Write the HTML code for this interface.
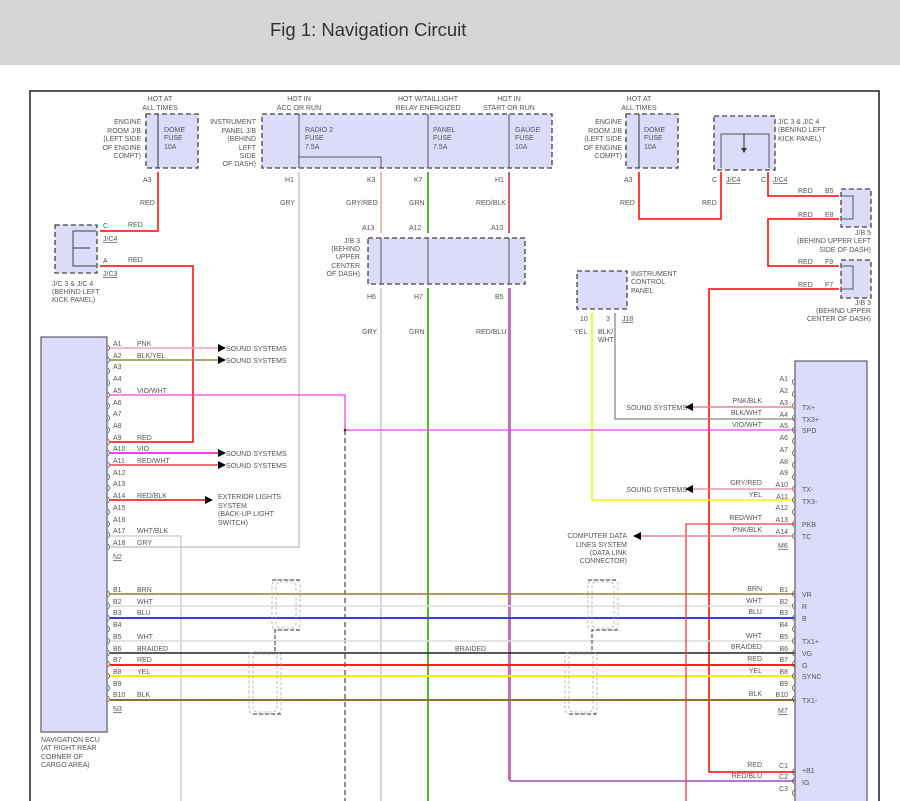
<!DOCTYPE html>
<html><head><meta charset="utf-8"><style>
body{margin:0;background:#fff;}
svg{display:block;font-family:"Liberation Sans",sans-serif;}
text{font-size:7px;fill:#555;}
.t{font-size:18.5px;fill:#333;}
.box{fill:#dcdcfa;stroke:#444;stroke-width:1.3;stroke-dasharray:5 3;}
.r{text-anchor:end;}
.u{text-decoration:underline;}
</style></head><body>
<svg width="900" height="801" viewBox="0 0 900 801">
<rect x="0" y="0" width="900" height="65" fill="#d6d6d6"/>
<text x="270" y="36" class="t">Fig 1: Navigation Circuit</text>
<rect x="30" y="91" width="849" height="720" fill="#fff" stroke="#555" stroke-width="2"/>

<text x="160" y="101" text-anchor="middle">HOT AT</text><text x="160" y="110" text-anchor="middle">ALL TIMES</text>
<rect x="146" y="114" width="52" height="54" class="box"/>
<line x1="158" y1="114" x2="158" y2="168" stroke="#333"/>
<text x="164" y="132">DOME</text><text x="164" y="140">FUSE</text><text x="164" y="149">10A</text>
<text x="141" y="124" class="r">ENGINE</text><text x="141" y="133" class="r">ROOM J/B</text><text x="141" y="141" class="r">(LEFT SIDE</text><text x="141" y="150" class="r">OF ENGINE</text><text x="141" y="158" class="r">COMPT)</text>
<text x="143" y="182">A3</text><text x="140" y="205">RED</text>
<polyline points="158,172 158,231 100,231" fill="none" stroke="#f00" stroke-width="1.5"/>
<text x="128" y="227">RED</text><text x="103" y="228">C</text><text x="103" y="241" class="u">J/C4</text>
<rect x="55" y="225" width="42" height="48" class="box"/>
<polyline points="96,231 73,231 73,266 96,266" fill="none" stroke="#444"/>
<line x1="73" y1="248" x2="90" y2="248" stroke="#333"/>
<text x="103" y="263">A</text><text x="128" y="262">RED</text><text x="103" y="276" class="u">J/C3</text>
<polyline points="100,266 193,266 193,442 110,442" fill="none" stroke="#f00" stroke-width="1.5"/>
<text x="52" y="286">J/C 3 &amp; J/C 4</text><text x="52" y="294">(BEHIND LEFT</text><text x="52" y="302">KICK PANEL)</text>

<text x="299" y="101" text-anchor="middle">HOT IN</text><text x="299" y="110" text-anchor="middle">ACC OR RUN</text>
<text x="428" y="101" text-anchor="middle">HOT W/TAILLIGHT</text><text x="428" y="110" text-anchor="middle">RELAY ENERGIZED</text>
<text x="509" y="101" text-anchor="middle">HOT IN</text><text x="509" y="110" text-anchor="middle">START OR RUN</text>
<rect x="262" y="114" width="290" height="54" class="box"/>
<text x="256" y="124" class="r">INSTRUMENT</text><text x="256" y="133" class="r">PANEL J/B</text><text x="256" y="141" class="r">(BEHIND</text><text x="256" y="150" class="r">LEFT</text><text x="256" y="158" class="r">SIDE</text><text x="256" y="166" class="r">OF DASH)</text>
<g stroke="#555"><line x1="299" y1="114" x2="299" y2="168"/><line x1="428" y1="114" x2="428" y2="168"/><line x1="509" y1="114" x2="509" y2="168"/><polyline points="299,157 381,157 381,168" fill="none"/></g>
<text x="305" y="132">RADIO 2</text><text x="305" y="140">FUSE</text><text x="305" y="149">7.5A</text>
<text x="433" y="132">PANEL</text><text x="433" y="140">FUSE</text><text x="433" y="149">7.5A</text>
<text x="515" y="132">GAUGE</text><text x="515" y="140">FUSE</text><text x="515" y="149">10A</text>
<text x="285" y="182">H1</text><text x="367" y="182">K3</text><text x="414" y="182">K7</text><text x="495" y="182">H1</text>
<text x="280" y="205">GRY</text><text x="346" y="205">GRY/RED</text><text x="409" y="205">GRN</text><text x="476" y="205">RED/BLK</text>
<text x="362" y="230">A13</text><text x="409" y="230">A12</text><text x="491" y="230">A10</text>
<line x1="381" y1="172" x2="381" y2="233" stroke="#e07070" stroke-width="1"/>
<line x1="428" y1="172" x2="428" y2="233" stroke="#4cbb2c" stroke-width="2"/>
<line x1="509" y1="172" x2="509" y2="233" stroke="#c03030" stroke-width="1.5"/>
<rect x="368" y="238" width="157" height="46" class="box"/>
<g stroke="#555"><line x1="381" y1="238" x2="381" y2="284"/><line x1="428" y1="238" x2="428" y2="284"/><line x1="509" y1="238" x2="509" y2="284"/></g>
<text x="360" y="243" class="r">J/B 3</text><text x="360" y="251" class="r">(BEHIND</text><text x="360" y="259" class="r">UPPER</text><text x="360" y="268" class="r">CENTER</text><text x="360" y="276" class="r">OF DASH)</text>
<text x="367" y="299">H6</text><text x="414" y="299">H7</text><text x="495" y="299">B5</text>
<text x="362" y="334">GRY</text><text x="409" y="334">GRN</text><text x="476" y="334">RED/BLU</text>
<line x1="381" y1="288" x2="381" y2="801" stroke="#c8c8c8" stroke-width="1.5"/>
<line x1="428" y1="288" x2="428" y2="801" stroke="#4cbb2c" stroke-width="2"/>
<polyline points="510,288 510,781 795,781" fill="none" stroke="#9050d0" stroke-width="1.5"/>
<line x1="508.5" y1="288" x2="508.5" y2="780" stroke="#e04040" stroke-width="0.8"/>

<polyline points="299,172 299,547 110,547" fill="none" stroke="#c8c8c8" stroke-width="1.5"/>

<text x="639" y="101" text-anchor="middle">HOT AT</text><text x="639" y="110" text-anchor="middle">ALL TIMES</text>
<rect x="626" y="114" width="52" height="54" class="box"/>
<line x1="639" y1="114" x2="639" y2="168" stroke="#333"/>
<text x="644" y="132">DOME</text><text x="644" y="140">FUSE</text><text x="644" y="149">10A</text>
<text x="622" y="124" class="r">ENGINE</text><text x="622" y="133" class="r">ROOM J/B</text><text x="622" y="141" class="r">(LEFT SIDE</text><text x="622" y="150" class="r">OF ENGINE</text><text x="622" y="158" class="r">COMPT)</text>
<text x="624" y="182">A3</text><text x="620" y="205">RED</text><text x="702" y="205">RED</text>
<polyline points="639,172 639,219 721,219 721,172" fill="none" stroke="#f00" stroke-width="1.5"/>
<rect x="714" y="116" width="61" height="54" class="box"/>
<polyline points="721,168 721,134 769,134 769,168" fill="none" stroke="#555"/>
<line x1="744" y1="134" x2="744" y2="150" stroke="#333"/><path d="M741,148 l3,5 l3,-5z" fill="#333"/>
<text x="778" y="124">J/C 3 &amp; J/C 4</text><text x="778" y="132">(BENIND LEFT</text><text x="778" y="141">KICK PANEL)</text>
<text x="712" y="182">C</text><text x="726" y="182" class="u">J/C4</text><text x="761" y="182">C</text><text x="773" y="182" class="u">J/C4</text>
<polyline points="768,172 768,196 839,196" fill="none" stroke="#f00" stroke-width="1.5"/>
<polyline points="839,219 768,219 768,266 839,266" fill="none" stroke="#f00" stroke-width="1.5"/>
<polyline points="839,289 709,289 709,772 795,772" fill="none" stroke="#f00" stroke-width="1.5"/>
<text x="798" y="193">RED</text><text x="825" y="193">B5</text>
<text x="798" y="217">RED</text><text x="825" y="217">E8</text>
<text x="798" y="264">RED</text><text x="825" y="264">F9</text>
<text x="798" y="287">RED</text><text x="825" y="287">F7</text>
<rect x="841" y="189" width="30" height="38" class="box"/>
<polyline points="842,196 853,196 853,219 842,219" fill="none" stroke="#555"/>
<rect x="841" y="260" width="30" height="38" class="box"/>
<polyline points="842,266 853,266 853,289 842,289" fill="none" stroke="#555"/>
<text x="871" y="235" class="r">J/B 5</text><text x="871" y="243" class="r">(BEHIND UPPER LEFT</text><text x="871" y="252" class="r">SIDE OF DASH)</text>
<text x="871" y="305" class="r">J/B 3</text><text x="871" y="313" class="r">(BEHIND UPPER</text><text x="871" y="321" class="r">CENTER OF DASH)</text>

<rect x="577" y="271" width="50" height="38" class="box"/>
<text x="631" y="276">INSTRUMENT</text><text x="631" y="284">CONTROL</text><text x="631" y="293">PANEL</text>
<text x="580" y="321">10</text><text x="606" y="321">3</text><text x="622" y="321" class="u">J18</text>
<text x="574" y="334">YEL</text><text x="598" y="334">BLK/</text><text x="598" y="342">WHT</text>
<polyline points="592,313 592,500 795,500" fill="none" stroke="#f5f000" stroke-width="1.5"/>
<polyline points="615,313 615,419 795,419" fill="none" stroke="#888" stroke-width="1.3"/>

<rect x="41" y="337" width="66" height="395" fill="#dcdcfa" stroke="#666" stroke-width="1.3"/>
<text x="41" y="742">NAVIGATION ECU</text><text x="41" y="750">(AT RIGHT REAR</text><text x="41" y="759">CORNER OF</text><text x="41" y="767">CARGO AREA)</text>
<text x="113" y="346">A1</text><text x="113" y="358">A2</text><text x="113" y="369">A3</text><text x="113" y="381">A4</text><text x="113" y="393">A5</text><text x="113" y="405">A6</text><text x="113" y="416">A7</text><text x="113" y="428">A8</text><text x="113" y="440">A9</text><text x="113" y="451">A10</text><text x="113" y="463">A11</text><text x="113" y="475">A12</text><text x="113" y="486">A13</text><text x="113" y="498">A14</text><text x="113" y="510">A15</text><text x="113" y="522">A16</text><text x="113" y="533">A17</text><text x="113" y="545">A18</text>
<text x="113" y="559" class="u">N2</text>
<text x="137" y="346">PNK</text><text x="137" y="358">BLK/YEL</text><text x="137" y="393">VIO/WHT</text><text x="137" y="440">RED</text><text x="137" y="451">VIO</text><text x="137" y="463">RED/WHT</text><text x="137" y="498">RED/BLK</text><text x="137" y="533">WHT/BLK</text><text x="137" y="545">GRY</text>
<g fill="none" stroke="#555" stroke-width="0.8">
<path d="M108,345 q3,3 0,6 M108,357 q3,3 0,6 M108,368 q3,3 0,6 M108,380 q3,3 0,6 M108,392 q3,3 0,6 M108,403 q3,3 0,6 M108,415 q3,3 0,6 M108,427 q3,3 0,6 M108,439 q3,3 0,6 M108,450 q3,3 0,6 M108,462 q3,3 0,6 M108,474 q3,3 0,6 M108,485 q3,3 0,6 M108,497 q3,3 0,6 M108,509 q3,3 0,6 M108,521 q3,3 0,6 M108,532 q3,3 0,6 M108,544 q3,3 0,6"/>
<path d="M108,591 q3,3 0,6 M108,603 q3,3 0,6 M108,615 q3,3 0,6 M108,626 q3,3 0,6 M108,638 q3,3 0,6 M108,650 q3,3 0,6 M108,661 q3,3 0,6 M108,673 q3,3 0,6 M108,685 q3,3 0,6 M108,696 q3,3 0,6"/>
</g>
<line x1="110" y1="348" x2="218" y2="348" stroke="#f4a0b8" stroke-width="1.5"/>
<line x1="110" y1="360" x2="218" y2="360" stroke="#8a8a40" stroke-width="1.5"/>
<polyline points="110,395 345,395 345,430 795,430" fill="none" stroke="#f040f0" stroke-width="1.3"/>
<line x1="110" y1="453" x2="218" y2="453" stroke="#f040f0" stroke-width="2"/>
<line x1="110" y1="465" x2="218" y2="465" stroke="#e02020" stroke-width="1.3"/>
<line x1="110" y1="500" x2="205" y2="500" stroke="#f00" stroke-width="1.5"/>
<polyline points="110,536 181,536 181,801" fill="none" stroke="#c8c8c8" stroke-width="1.3"/>
<g fill="#000"><path d="M218,344 l8,4 l-8,4z"/><path d="M218,356 l8,4 l-8,4z"/><path d="M218,449 l8,4 l-8,4z"/><path d="M218,461 l8,4 l-8,4z"/><path d="M205,496 l8,4 l-8,4z"/></g>
<text x="226" y="351">SOUND SYSTEMS</text><text x="226" y="363">SOUND SYSTEMS</text><text x="226" y="456">SOUND SYSTEMS</text><text x="226" y="468">SOUND SYSTEMS</text>
<text x="218" y="499">EXTERIOR LIGHTS</text><text x="218" y="508">SYSTEM</text><text x="218" y="516">(BACK-UP LIGHT</text><text x="218" y="525">SWITCH)</text>
<line x1="345" y1="430" x2="345" y2="801" stroke="#555" stroke-width="1.3" stroke-dasharray="5 3"/>
<circle cx="345" cy="430" r="1.3" fill="#333"/>

<g stroke-width="1.5">
<line x1="110" y1="594" x2="795" y2="594" stroke="#9a7a30"/>
<line x1="110" y1="606" x2="795" y2="606" stroke="#dcdcdc"/>
<line x1="110" y1="618" x2="795" y2="618" stroke="#3a3af0" stroke-width="2"/>
<line x1="110" y1="641" x2="795" y2="641" stroke="#dcdcdc"/>
<line x1="110" y1="653" x2="795" y2="653" stroke="#222"/>
<line x1="110" y1="665" x2="795" y2="665" stroke="#f82020" stroke-width="2"/>
<line x1="110" y1="676" x2="795" y2="676" stroke="#f5f000" stroke-width="2"/>
<line x1="110" y1="700" x2="795" y2="700" stroke="#8a7035" stroke-width="2"/>
</g>
<text x="113" y="592">B1</text><text x="113" y="604">B2</text><text x="113" y="615">B3</text><text x="113" y="627">B4</text><text x="113" y="639">B5</text><text x="113" y="651">B6</text><text x="113" y="662">B7</text><text x="113" y="674">B8</text><text x="113" y="686">B9</text><text x="113" y="697">B10</text><text x="113" y="711" class="u">N3</text>
<text x="137" y="592">BRN</text><text x="137" y="604">WHT</text><text x="137" y="615">BLU</text><text x="137" y="639">WHT</text><text x="137" y="651">BRAIDED</text><text x="137" y="662">RED</text><text x="137" y="674">YEL</text><text x="137" y="697">BLK</text>
<text x="455" y="651">BRAIDED</text>
<g fill="none" stroke="#aaa" stroke-width="0.8" stroke-dasharray="3 2">
<rect x="272" y="580" width="28" height="50" rx="5"/><rect x="276" y="582" width="20" height="46" rx="4"/>
<rect x="249" y="652" width="32" height="62" rx="5"/><rect x="253" y="654" width="24" height="58" rx="4"/>
<rect x="588" y="580" width="30" height="50" rx="5"/><rect x="592" y="582" width="22" height="46" rx="4"/>
<rect x="565" y="652" width="32" height="62" rx="5"/><rect x="569" y="654" width="24" height="58" rx="4"/>
</g>
<g fill="none" stroke="#333" stroke-width="1" stroke-dasharray="4 2">
<polyline points="300,630 275,630 275,653 253,653"/><line x1="272" y1="580" x2="300" y2="580"/><line x1="253" y1="714" x2="281" y2="714"/>
<polyline points="618,630 592,630 592,653 569,653"/><line x1="588" y1="580" x2="618" y2="580"/><line x1="569" y1="714" x2="597" y2="714"/>
</g>

<rect x="795" y="361" width="72" height="450" fill="#dcdcfa" stroke="#666" stroke-width="1.3"/>
<g fill="none" stroke="#555" stroke-width="0.8">
<path d="M794,379 q-3,3 0,6 M794,391 q-3,3 0,6 M794,403 q-3,3 0,6 M794,415 q-3,3 0,6 M794,427 q-3,3 0,6 M794,438 q-3,3 0,6 M794,450 q-3,3 0,6 M794,462 q-3,3 0,6 M794,474 q-3,3 0,6 M794,486 q-3,3 0,6 M794,497 q-3,3 0,6 M794,509 q-3,3 0,6 M794,521 q-3,3 0,6 M794,533 q-3,3 0,6"/>
<path d="M794,591 q-3,3 0,6 M794,603 q-3,3 0,6 M794,615 q-3,3 0,6 M794,626 q-3,3 0,6 M794,638 q-3,3 0,6 M794,650 q-3,3 0,6 M794,661 q-3,3 0,6 M794,673 q-3,3 0,6 M794,685 q-3,3 0,6 M794,696 q-3,3 0,6 M794,769 q-3,3 0,6 M794,778 q-3,3 0,6 M794,790 q-3,3 0,6"/>
</g>
<text x="788" y="381" class="r">A1</text><text x="788" y="393" class="r">A2</text><text x="788" y="405" class="r">A3</text><text x="788" y="417" class="r">A4</text><text x="788" y="428" class="r">A5</text><text x="788" y="440" class="r">A6</text><text x="788" y="452" class="r">A7</text><text x="788" y="464" class="r">A8</text><text x="788" y="475" class="r">A9</text><text x="788" y="487" class="r">A10</text><text x="788" y="499" class="r">A11</text><text x="788" y="510" class="r">A12</text><text x="788" y="522" class="r">A13</text><text x="788" y="534" class="r">A14</text>
<text x="788" y="592" class="r">B1</text><text x="788" y="604" class="r">B2</text><text x="788" y="615" class="r">B3</text><text x="788" y="627" class="r">B4</text><text x="788" y="639" class="r">B5</text><text x="788" y="651" class="r">B6</text><text x="788" y="662" class="r">B7</text><text x="788" y="674" class="r">B8</text><text x="788" y="686" class="r">B9</text><text x="788" y="697" class="r">B10</text>
<text x="788" y="768" class="r">C1</text><text x="788" y="779" class="r">C2</text><text x="788" y="791" class="r">C3</text>
<text x="778" y="548" class="u">M6</text><text x="778" y="713" class="u">M7</text>
<text x="802" y="410">TX+</text><text x="802" y="422">TX3+</text><text x="802" y="433">SPD</text><text x="802" y="492">TX-</text><text x="802" y="504">TX3-</text><text x="802" y="527">PKB</text><text x="802" y="539">TC</text>
<text x="802" y="597">VR</text><text x="802" y="609">R</text><text x="802" y="621">B</text><text x="802" y="644">TX1+</text><text x="802" y="656">VG</text><text x="802" y="668">G</text><text x="802" y="679">SYNC</text><text x="802" y="703">TX1-</text>
<text x="802" y="773">+B1</text><text x="802" y="785">IG</text>
<text x="762" y="403" class="r">PNK/BLK</text><text x="762" y="415" class="r">BLK/WHT</text><text x="762" y="427" class="r">VIO/WHT</text><text x="762" y="485" class="r">GRY/RED</text><text x="762" y="497" class="r">YEL</text><text x="762" y="520" class="r">RED/WHT</text><text x="762" y="532" class="r">PNK/BLK</text>
<text x="762" y="591" class="r">BRN</text><text x="762" y="603" class="r">WHT</text><text x="762" y="614" class="r">BLU</text><text x="762" y="638" class="r">WHT</text><text x="762" y="649" class="r">BRAIDED</text><text x="762" y="661" class="r">RED</text><text x="762" y="673" class="r">YEL</text><text x="762" y="696" class="r">BLK</text>
<text x="762" y="767" class="r">RED</text><text x="762" y="778" class="r">RED/BLU</text>
<line x1="693" y1="407" x2="795" y2="407" stroke="#e08898" stroke-width="1.5"/>
<line x1="693" y1="489" x2="795" y2="489" stroke="#e08898" stroke-width="1.3"/>
<polyline points="795,524 686,524 686,801" fill="none" stroke="#e04040" stroke-width="1.3"/>
<line x1="641" y1="536" x2="795" y2="536" stroke="#e08898" stroke-width="1.5"/>
<g fill="#000"><path d="M693,403 l-8,4 l8,4z"/><path d="M693,485 l-8,4 l8,4z"/><path d="M641,532 l-8,4 l8,4z"/></g>
<text x="687" y="410" class="r">SOUND SYSTEMS</text><text x="687" y="492" class="r">SOUND SYSTEMS</text>
<text x="627" y="538" class="r">COMPUTER DATA</text><text x="627" y="547" class="r">LINES SYSTEM</text><text x="627" y="555" class="r">(DATA LINK</text><text x="627" y="563" class="r">CONNECTOR)</text>
</svg>
</body></html>
